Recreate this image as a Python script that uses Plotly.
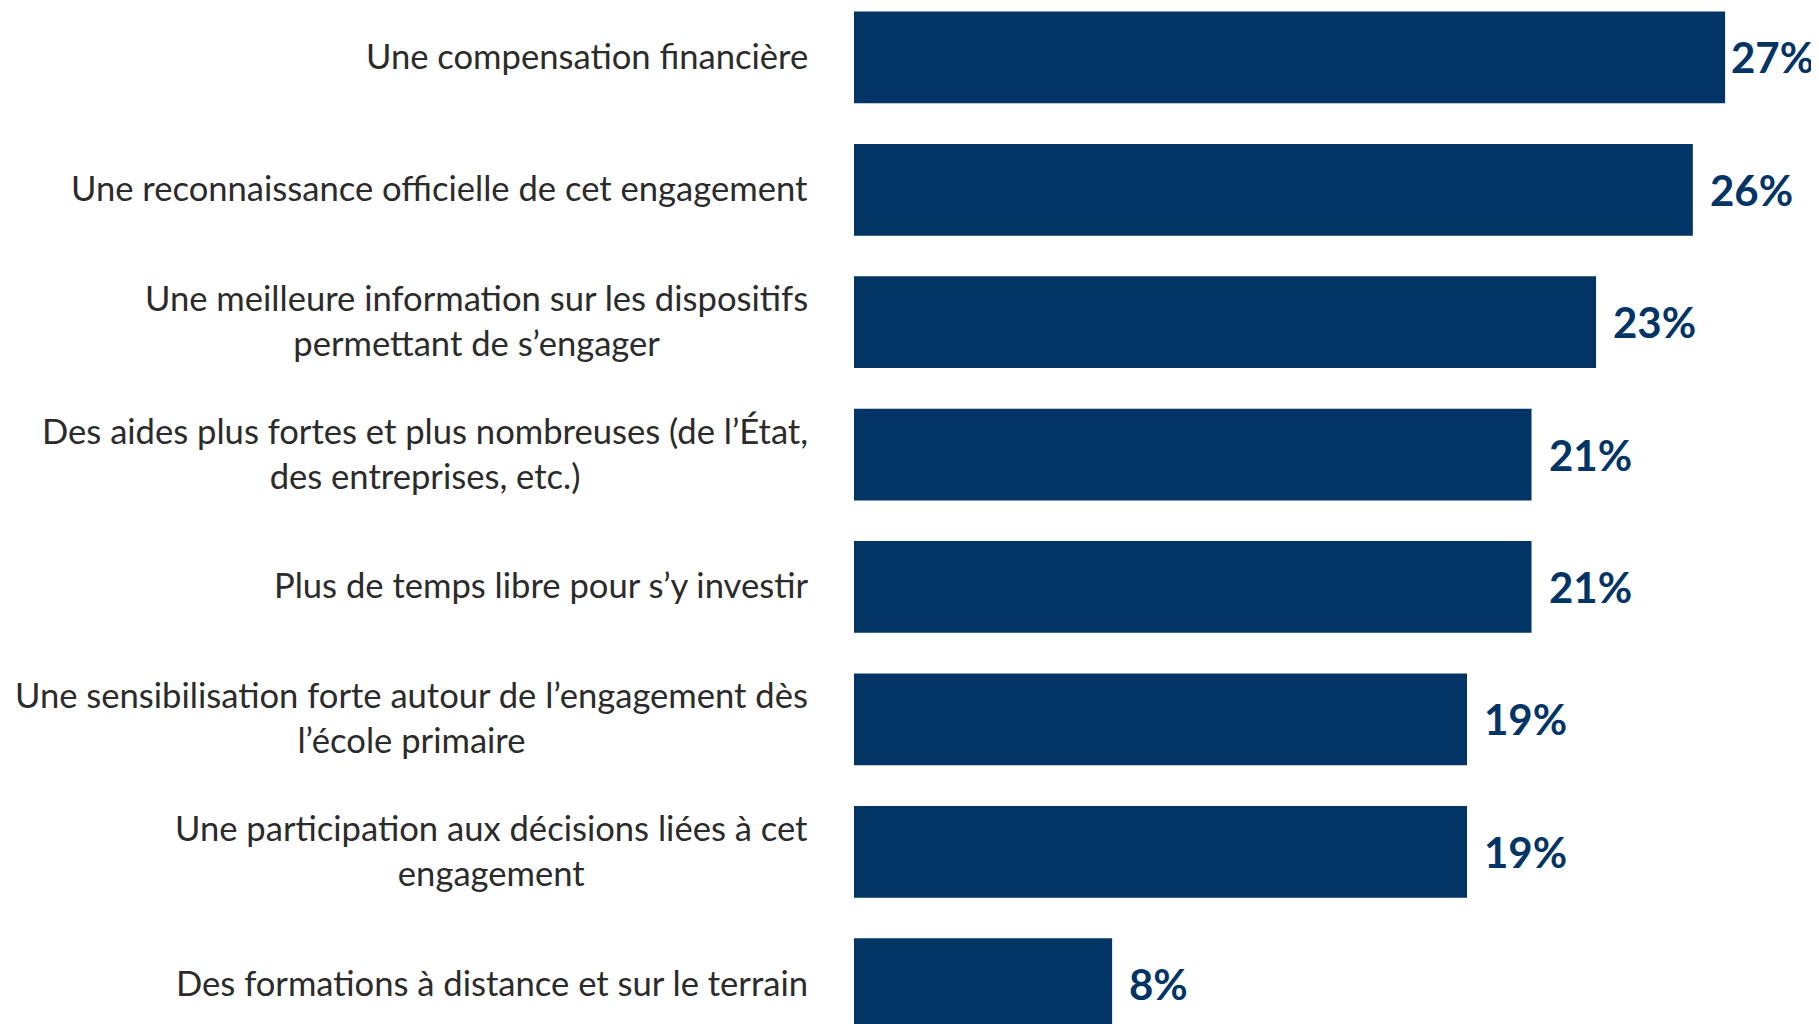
import plotly.graph_objects as go

# Categories (top to bottom) and shares in percent
categories = [
    "Une compensation financière",
    "Une reconnaissance officielle de cet engagement",
    "Une meilleure information sur les dispositifs<br>permettant de s’engager",
    "Des aides plus fortes et plus nombreuses (de l’État,<br>des entreprises, etc.)",
    "Plus de temps libre pour s’y investir",
    "Une sensibilisation forte autour de l’engagement dès<br>l’école primaire",
    "Une participation aux décisions liées à cet<br>engagement",
    "Des formations à distance et sur le terrain",
]
values = [27, 26, 23, 21, 21, 19, 19, 8]
value_labels = ["27%", "26%", "23%", "21%", "21%", "19%", "19%", "8%"]

BAR = "#023466"
TEXT = "#2b2b2b"
# page body has an 8px margin, so the figure is a bit smaller than the window
W, H = 1811, 1016
LEFT = 846
XMAX = 29.91

fig = go.Figure(go.Bar(
    x=values,
    y=categories,
    orientation="h",
    marker=dict(color=BAR, line=dict(width=0)),
    hoverinfo="skip",
))

# category labels: right-aligned block, lines centred within it
for cat in categories:
    fig.add_annotation(
        x=0, xref="paper", y=cat, yref="y",
        text=cat, showarrow=False,
        xanchor="right", yanchor="middle", align="center",
        xshift=-44, yshift=2,
        font=dict(family="Lato", size=34.6, color=TEXT),
    )

# value labels next to each bar
px_per_unit = (W - LEFT) / XMAX
for cat, v, lab in zip(categories, values, value_labels):
    room = W - (LEFT + v * px_per_unit) - 90
    fig.add_annotation(
        x=v, xref="x", y=cat, yref="y",
        text="<b>" + lab + "</b>", showarrow=False,
        xanchor="left", yanchor="middle",
        xshift=min(15, max(room, 2)),
        font=dict(family="Lato", size=42, color=BAR),
    )

fig.update_layout(
    width=W, height=H,
    margin=dict(l=LEFT, r=0, t=0, b=0),
    paper_bgcolor="white", plot_bgcolor="white",
    bargap=0.307,
    showlegend=False,
    xaxis=dict(range=[0, XMAX], visible=False),
    yaxis=dict(categoryorder="array", categoryarray=categories,
               range=[7.301, -0.373], visible=False),
)

fig.write_html("out.html")
